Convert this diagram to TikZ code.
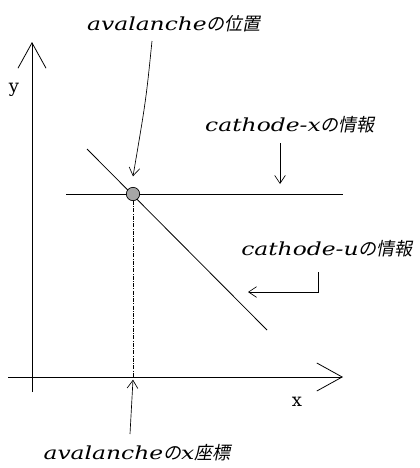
\documentclass[tikz,border=0pt]{standalone}
\usepackage{fontspec}
\usetikzlibrary{arrows.meta}
\setmainfont{DejaVu Serif}
\newfontfamily\latinit{DejaVu Serif}[FakeStretch=1.3]
\newfontfamily\jpit{Noto Sans CJK JP}[FakeSlant=0.2]
\newcommand{\lbl}[2]{{\latinit\itshape #1}{\jpit #2}}

\begin{document}
\begin{tikzpicture}[x=0.75pt, y=-0.75pt, line width=0.6pt,
	every node/.style={inner sep=0pt, font=\fontsize{13.5pt}{15pt}\selectfont},
	axis/.style={-{Straight Barb[length=19pt, width=21pt, line width=0.6pt]}},
	note/.style={-{Straight Barb[length=6pt, width=8pt]}, line width=0.5pt}]
	\useasboundingbox (0,0) rectangle (419,468);
	% axes
	\draw[axis] (32,392) coordinate (yfoot) -- (32,42) coordinate (ytop);
	\draw[axis] (8,377) coordinate (xfoot) -- (343,377) coordinate (xtip);
	\node (ylab) at (14,90) {y};
	\node (xlab) at (297,402) {x};
	% cathode-x and cathode-u lines
	\draw (66,194) coordinate (hx0) -- (343,194) coordinate (hx1);
	\draw (87,149) coordinate (du0) -- (267,330) coordinate (du1);
	\node[circle, draw, fill=gray!70, minimum size=10pt, line width=0.5pt] (aval) at (133,194) {};
	\coordinate (avfoot) at (133,377);
	\draw[densely dash dot, line width=0.5pt] (aval.south) -- (avfoot);
	% labels
	\node (avpos) at (174,24) {\lbl{avalanche}{の位置}};
	\node (catx) at (290,125) {\lbl{cathode-x}{の情報}};
	\node (catu) at (327,249) {\lbl{cathode-u}{の情報}};
	\node (avx) at (137,453) {\lbl{avalanche}{の}\lbl{x}{座標}};
	% pointers
	\coordinate (avpos-tail) at (152,41);
	\coordinate (catx-tail) at (280,143);
	\coordinate (catx-head) at (280,184);
	\coordinate (catu-tail) at (318,272);
	\coordinate (catu-head) at (248,292);
	\coordinate (avx-tail) at (130,434);
	\draw[note] (avpos-tail) .. controls (146,100) .. ([yshift=8pt]aval.north);
	\draw[note] (catx-tail) -- (catx-head);
	\draw[note] (catu-tail) |- (catu-head);
	\draw[note] (avx-tail) -- ([yshift=-2pt]avfoot);
\end{tikzpicture}
\end{document}
